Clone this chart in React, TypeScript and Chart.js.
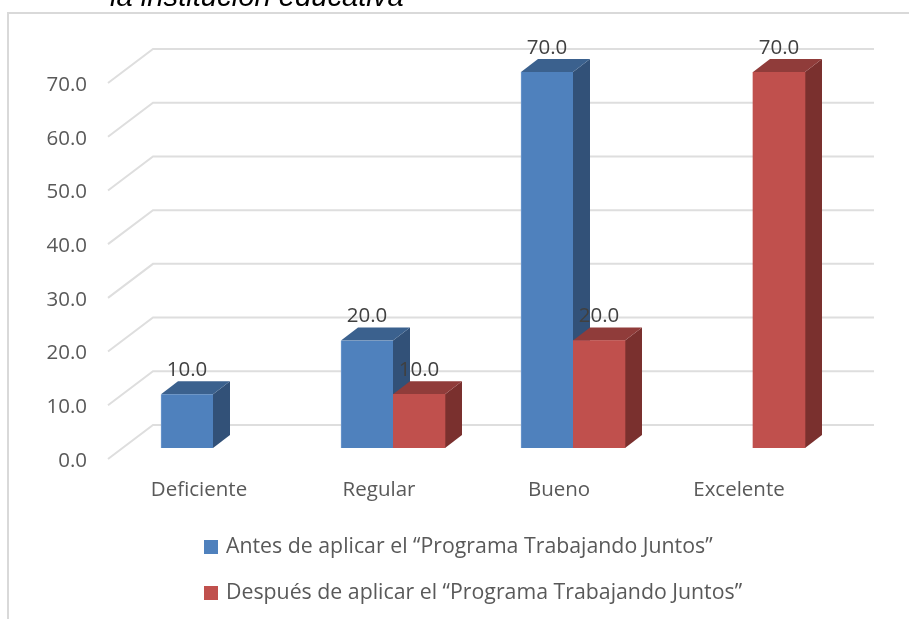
import React, { useEffect, useRef } from "react";
import { Chart, registerables } from "chart.js";

Chart.register(...registerables);

const categories = ["Deficiente", "Regular", "Bueno", "Excelente"];
const antes = [10, 20, 70, null];
const despues = [null, 10, 20, 70];
const seriesNames = [
  "Antes de aplicar el “Programa Trabajando Juntos”",
  "Después de aplicar el “Programa Trabajando Juntos”",
];
const titleFragment = "la institución educativa";

const FONT = "'Open Sans'";
const DEPTH_X = 17;
const DEPTH_Y = 13;
const TEXT_GREY = "#595959";

const shade: Record<string, { side: string; top: string; edge: string }> = {
  "#4F81BD": { side: "#325178", top: "#3B618E", edge: "#6F9AD0" },
  "#C0504D": { side: "#7A302E", top: "#903C3A", edge: "#D87370" },
};

const backdrop = {
  id: "backdrop",
  beforeDraw(chart: any) {
    const c = chart.ctx;
    c.save();
    c.strokeStyle = "#D9D9D9";
    c.lineWidth = 2;
    c.beginPath();
    c.moveTo(8, 619);
    c.lineTo(8, 13);
    c.lineTo(909, 13);
    c.stroke();
    c.fillStyle = "#000";
    c.font = "italic 29.2px 'Liberation Sans'";
    c.textBaseline = "alphabetic";
    c.fillText(titleFragment, 110, 6);
    c.restore();
  },
  beforeDatasetsDraw(chart: any) {
    const c = chart.ctx;
    const y = chart.scales.y;
    c.save();
    c.strokeStyle = "#DEDEDE";
    c.lineWidth = 2;
    y.ticks.forEach((t: any) => {
      const p = y.getPixelForValue(t.value);
      c.beginPath();
      c.moveTo(108, p + 11);
      c.lineTo(153, p - 23);
      c.lineTo(874, p - 23);
      c.stroke();
    });
    chart.data.datasets.forEach((ds: any, i: number) => {
      const s = shade[ds.backgroundColor];
      chart.getDatasetMeta(i).data.forEach((bar: any, j: number) => {
        if (ds.data[j] == null) return;
        const { x, y: top, base, width } = bar.getProps(["x", "y", "base", "width"]);
        const r = x + width / 2;
        const l = x - width / 2;
        c.fillStyle = s.side;
        c.beginPath();
        c.moveTo(r, top);
        c.lineTo(r + DEPTH_X, top - DEPTH_Y);
        c.lineTo(r + DEPTH_X, base - DEPTH_Y);
        c.lineTo(r, base);
        c.closePath();
        c.fill();
        c.fillStyle = s.top;
        c.beginPath();
        c.moveTo(l, top);
        c.lineTo(l + DEPTH_X, top - DEPTH_Y);
        c.lineTo(r + DEPTH_X, top - DEPTH_Y);
        c.lineTo(r, top);
        c.closePath();
        c.fill();
      });
    });
    c.restore();
  },
  afterDatasetsDraw(chart: any) {
    const c = chart.ctx;
    c.save();
    c.font = `20.5px ${FONT}`;
    c.fillStyle = "#404040";
    c.textAlign = "center";
    c.textBaseline = "middle";
    chart.data.datasets.forEach((ds: any, i: number) => {
      chart.getDatasetMeta(i).data.forEach((bar: any, j: number) => {
        if (ds.data[j] == null) return;
        c.fillText(ds.data[j].toFixed(1), bar.x, bar.y - 24);
      });
    });
    c.textAlign = "left";
    c.font = `21.3px ${FONT}`;
    chart.data.datasets.forEach((ds: any, i: number) => {
      const cy = 547 + i * 46;
      c.fillStyle = ds.backgroundColor;
      c.fillRect(204, cy - 7, 14, 14);
      c.fillStyle = TEXT_GREY;
      c.fillText(ds.label, 226, cy);
    });
    c.restore();
  },
};

export default function App() {
  const ref = useRef<HTMLCanvasElement>(null);
  useEffect(() => {
    document.body.style.margin = "0";
    const chart = new Chart(ref.current!, {
      type: "bar",
      data: {
        labels: categories,
        datasets: [
          { label: seriesNames[0], data: antes, backgroundColor: "#4F81BD", borderColor: shade["#4F81BD"].edge, borderWidth: { left: 1, bottom: 1 } },
          { label: seriesNames[1], data: despues, backgroundColor: "#C0504D", borderColor: shade["#C0504D"].edge, borderWidth: { left: 0, bottom: 1 } },
        ],
      },
      options: {
        animation: false,
        responsive: false,
        layout: { padding: { top: 72, right: 66, left: 0, bottom: 0 } },
        datasets: { bar: { barThickness: 52 } },
        plugins: { legend: { display: false }, tooltip: { enabled: false } },
        scales: {
          x: {
            grid: { display: false },
            border: { display: false },
            afterFit: (s: any) => { s.height = 171; },
            ticks: {
              font: { family: FONT, size: 20.5 },
              color: TEXT_GREY,
              padding: 22,
              labelOffset: -14,
              maxRotation: 0,
            },
          },
          y: {
            min: 0,
            max: 70,
            grid: { display: false },
            border: { display: false },
            afterFit: (s: any) => { s.width = 123; },
            ticks: {
              stepSize: 10,
              font: { family: FONT, size: 20.5 },
              color: TEXT_GREY,
              padding: 28,
              labelOffset: 13,
              callback: (v: any) => Number(v).toFixed(1),
            },
          },
        },
      },
      plugins: [backdrop],
    } as any);
    return () => chart.destroy();
  }, []);
  return <canvas ref={ref} width={909} height={619} style={{ display: "block" }} />;
}
